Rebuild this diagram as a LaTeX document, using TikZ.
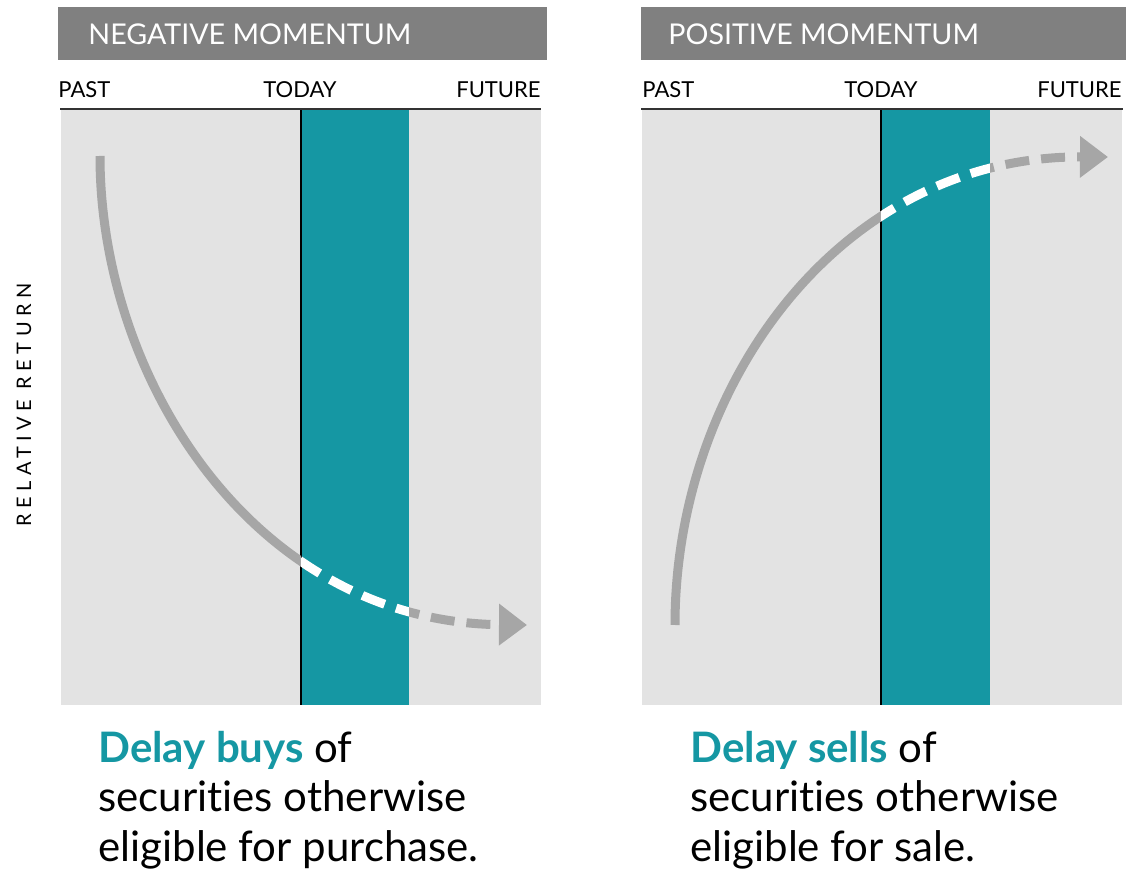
\documentclass[tikz,border=0pt]{standalone}
\usepackage{fontspec}
\setmainfont{Lato}[Ligatures=NoCommon]
\usetikzlibrary{arrows.meta,positioning}
\definecolor{headgray}{HTML}{808080}
\definecolor{panelgray}{HTML}{E3E3E3}
\definecolor{bandteal}{HTML}{1597A3}
\definecolor{curvegray}{HTML}{A6A6A6}
\tikzset{
  header/.style    = {fill=headgray},
  headtext/.style  = {text=white, anchor=west, inner sep=0pt,
                      font=\fontsize{14.3}{16}\selectfont},
  timetext/.style  = {inner sep=0pt, font=\fontsize{11}{13}\selectfont},
  panel/.style     = {fill=panelgray},
  band/.style      = {fill=bandteal},
  curve/.style     = {line width=4.5pt, curvegray},
  dashcurve/.style = {curve, dash pattern=on 12pt off 6pt},
  whitecurve/.style= {dashcurve, white},
  endarrow/.style  = {-{Triangle[length=14pt,width=20pt]}},
  caption/.style   = {align=left, anchor=base west, inner sep=0pt,
                      font=\fontsize{21}{25}\selectfont},
}

\begin{document}
\begin{tikzpicture}[x=0.5pt,y=-0.5pt]
  \useasboundingbox (0,0) rectangle (1126,871);
  % negative momentum
  \fill[header] (58,7) rectangle (547,60);
  \node[headtext] (negtitle) at (88,34) {NEGATIVE MOMENTUM};
  \node[timetext,anchor=base west] (negpast) at (58,98) {PAST};
  \node[timetext,anchor=base] (negtoday) at (300,98) {TODAY};
  \node[timetext,anchor=base east] (negfuture) at (541,98) {FUTURE};
  \fill[panel] (61,110) rectangle (541,705);
  \fill[band] (301,110) rectangle (409,705);
  \draw[line width=0.7pt] (301,110) -- (301,705);
  \draw[line width=1pt,black!80] (60,109) -- (541,109);
  \coordinate (negstart) at (100,156);
  \coordinate (nega) at (100,380);
  \coordinate (negb) at (255,622);
  \coordinate (negend) at (527,625);
  \foreach \lo/\hi/\sty in {0/301/curve,301/409/whitecurve,409/1126/dashcurve} {
    \begin{scope}
      \clip (\lo,0) rectangle (\hi,871);
      \draw[\sty,endarrow] (negstart) .. controls (nega) and (negb) .. (negend);
    \end{scope}
  }
  % base of a multi-line node is the last line
  \node[caption] (negtext) at (98,862)
    {\textcolor{bandteal}{\bfseries Delay buys} of\\securities otherwise\\eligible for purchase.};

  % positive momentum
  \fill[header] (641,7) rectangle (1126,60);
  \node[headtext] (postitle) at (668,34) {POSITIVE MOMENTUM};
  \node[timetext,anchor=base west] (pospast) at (642,98) {PAST};
  \node[timetext,anchor=base] (postoday) at (881,98) {TODAY};
  \node[timetext,anchor=base east] (posfuture) at (1122,98) {FUTURE};
  \fill[panel] (642,110) rectangle (1122,705);
  \fill[band] (881,110) rectangle (990,705);
  \draw[line width=0.7pt] (881,110) -- (881,705);
  \draw[line width=1pt,black!80] (641,109) -- (1123,109);
  \coordinate (posstart) at (675,625);
  \coordinate (posa) at (675,385);
  \coordinate (posb) at (840,156);
  \coordinate (posend) at (1108,157);
  \foreach \lo/\hi/\sty in {0/881/curve,881/990/whitecurve,990/1126/dashcurve} {
    \begin{scope}
      \clip (\lo,0) rectangle (\hi,871);
      \draw[\sty,endarrow] (posstart) .. controls (posa) and (posb) .. (posend);
    \end{scope}
  }
  \node[caption] (postext) at (690,862)
    {\textcolor{bandteal}{\bfseries Delay sells} of\\securities otherwise\\eligible for sale.};

  \node[rotate=90,font=\fontsize{10}{12}\selectfont\addfontfeature{LetterSpace=27}]
    (ylabel) at (24,405) {RELATIVE RETURN};
\end{tikzpicture}
\end{document}
